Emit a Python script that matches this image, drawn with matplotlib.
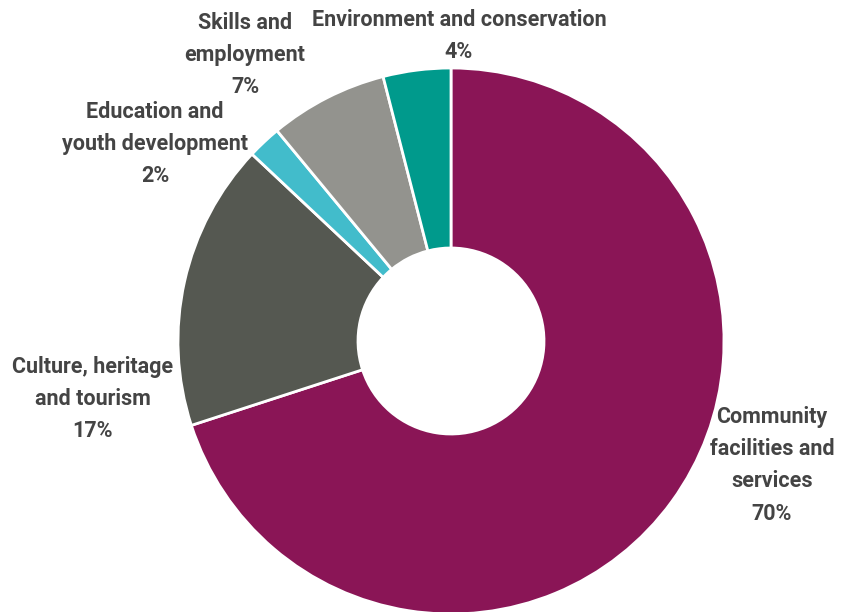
import matplotlib.pyplot as plt

categories = [
    "Community\nfacilities and\nservices",
    "Culture, heritage\nand tourism",
    "Education and\nyouth development",
    "Skills and\nemployment",
    "Environment and conservation",
]
shares = [70, 17, 2, 7, 4]
colors = ["#8A1556", "#555851", "#42BCCB", "#93938E", "#009A8C"]

# label centres in pixels (x from left, y of first line from top)
label_pos = [(772, 417), (93, 367), (155, 112), (245, 23), (459, 20)]

W, H = 841, 612
cx, cy, R = 451, 341, 273

plt.rcParams['font.family'] = ['Roboto', 'DejaVu Sans']
fig = plt.figure(figsize=(W / 100, H / 100), dpi=100)
ax = fig.add_axes([0, 0, 1, 1])

ax.pie(shares, colors=colors, startangle=90, counterclock=False, radius=1,
       wedgeprops=dict(width=1 - 93 / R, edgecolor='white', linewidth=2))

ax.set_xlim(-cx / R, (W - cx) / R)
ax.set_ylim(-(H - cy) / R, cy / R)
ax.set_aspect('equal')
ax.axis('off')

for cat, val, (px, py) in zip(categories, shares, label_pos):
    txt = cat + "\n" + f"{val}%"
    fig.text(px / W, 1 - (py - 11) / H, txt, ha='center', va='top',
             fontsize=15.5, fontweight='bold', color='#444444', linespacing=1.6)

plt.savefig('out.png', dpi=100)
